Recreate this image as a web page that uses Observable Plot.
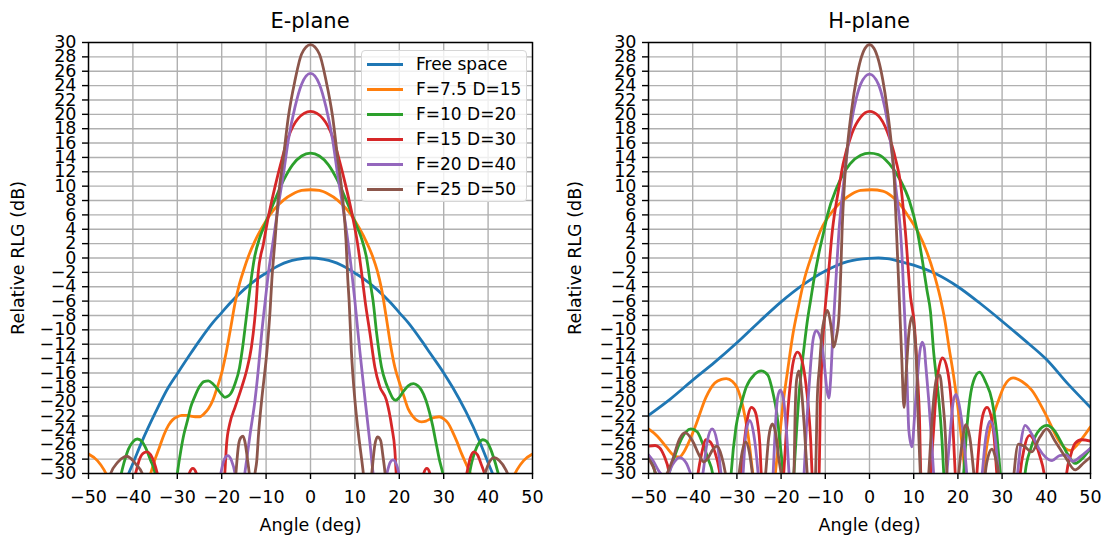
<!DOCTYPE html>
<html><head><meta charset="utf-8">
<script src="https://cdn.jsdelivr.net/npm/d3@7"></script>
<script src="https://cdn.jsdelivr.net/npm/@observablehq/plot@0.6"></script>
<style>
body{margin:0;background:#fff;font-family:"DejaVu Sans",sans-serif;}
#wrap{position:relative;width:1102px;height:535px;overflow:hidden;background:#fff;}
.panel{position:absolute;top:0;}
.title{position:absolute;top:11px;font-size:21px;line-height:21px;white-space:nowrap;transform:translateX(-50%);color:#000;}
.legend{position:absolute;left:361px;top:50px;width:166px;height:152px;box-sizing:border-box;border:1.2px solid #d6d6d6;border-radius:4px;background:rgba(255,255,255,0.8);}
.lrow{position:absolute;left:0;height:25px;display:flex;align-items:center;}
.lline{width:36px;height:2.8px;margin-left:5px;}
.ltext{margin-left:13px;font-size:17px;line-height:17px;white-space:nowrap;color:#000;}
</style></head><body><div id="wrap"></div>
<script>
// ---------- series and ticks ----------
const seriesNames = ["Free space","F=7.5 D=15","F=10 D=20","F=15 D=30","F=20 D=40","F=25 D=50"];
const seriesColors = ["#1f77b4","#ff7f0e","#2ca02c","#d62728","#9467bd","#8c564b"];
const xTicks = [-50,-40,-30,-20,-10,0,10,20,30,40,50];
const yTicks = [-30,-28,-26,-24,-22,-20,-18,-16,-14,-12,-10,-8,-6,-4,-2,0,2,4,6,8,10,12,14,16,18,20,22,24,26,28,30];
const panelTitles = ["E-plane","H-plane"];

// ---------- E-plane data: [angle (deg), relative RLG (dB)] ----------
const eFree = [[-50,-46],[-45,-36],[-42,-31.5],[-40,-28.6],[-38,-25.6],[-35,-21.6],[-32,-18],[-30,-16.1],[-27,-13.3],[-25,-11.5],[-22,-9],[-20,-7.6],[-18,-6.2],[-15,-4.4],[-12,-2.9],[-10,-2.1],[-7,-1.0],[-5,-0.5],[-3,-0.2],[0,0],[3,-0.2],[5,-0.5],[7,-1.0],[10,-2.1],[12,-2.9],[15,-4.4],[18,-6.2],[20,-7.6],[22,-9],[25,-11.5],[27,-13.3],[30,-16],[32,-18],[35,-21.4],[38,-25.4],[40,-28.5],[42,-31.5],[45,-36],[50,-46]];
const eF75 = [[-50,-27.3],[-48,-28.2],[-46.5,-29.5],[-45,-31.5],[-43,-36],[-40,-38],[-37.5,-33],[-36,-30],[-35,-28],[-34,-26.3],[-33,-24.6],[-32,-23.3],[-31,-22.5],[-30,-22.1],[-29,-21.9],[-28,-21.9],[-27,-22.0],[-26,-22.1],[-25,-22.1],[-24,-21.7],[-23,-21],[-22,-19.8],[-21,-18],[-20,-16],[-19,-13.2],[-18,-9.8],[-17,-6.3],[-16,-3.6],[-15,-1.6],[-14,0.2],[-12,3],[-10,5.2],[-8,6.9],[-6,8.1],[-4,8.9],[-2,9.4],[0,9.5],[2,9.4],[4,8.9],[6,8.1],[8,6.9],[10,5.2],[12,3],[14,0.2],[15,-1.7],[16,-4.3],[17,-8],[18,-12],[19,-15.2],[20,-17.3],[21,-19.2],[22,-21],[23,-22],[24,-22.6],[25,-22.8],[26,-22.7],[27,-22.4],[28,-22.2],[29,-22.1],[30,-22.4],[31,-23],[32,-24.2],[33,-25.6],[34,-27.2],[35,-28.6],[36,-30],[37.5,-33],[40,-38],[43,-36],[45,-31.5],[46.5,-29.5],[48,-28.2],[50,-27.3]];
const eF10 = [[-50,-40],[-45,-36],[-43,-31],[-42,-28.5],[-41,-26.6],[-40,-25.6],[-39,-25.2],[-38,-25.5],[-37,-26.6],[-36,-28.2],[-35,-30],[-34,-35],[-32.5,-38],[-31,-35],[-30,-30],[-29.2,-26.8],[-28.5,-24.5],[-27.7,-22.6],[-27,-20.8],[-26,-19.2],[-25,-17.9],[-24,-17.2],[-23,-17.1],[-22,-17.5],[-21,-18.2],[-20,-19],[-19.3,-19.4],[-18.5,-19.2],[-18,-18.9],[-17,-17.5],[-16,-15.3],[-15.3,-12.5],[-14.5,-8.5],[-14,-6],[-13.5,-3.6],[-12.6,0.1],[-11.5,2.7],[-10.3,4.6],[-9,6.6],[-8,8.1],[-6,10.9],[-4,13],[-2,14.2],[0,14.6],[2,14.2],[4,13],[6,10.9],[8,8.1],[9,6.6],[10.3,4.6],[11.5,2.7],[12.6,0.1],[13.5,-3.6],[14.1,-6],[14.9,-10.5],[16,-15.2],[17,-17.4],[17.8,-18.6],[18.5,-19.5],[19.2,-19.8],[20,-19.4],[21,-18.5],[22,-17.8],[23.2,-17.5],[24.2,-17.8],[25,-18.4],[26,-19.8],[26.8,-21.5],[27.5,-23.3],[28.2,-25.5],[29,-28],[29.8,-30],[31,-35],[32.5,-38],[34,-35],[35.5,-31],[36.3,-28.5],[37,-27],[38,-25.7],[38.8,-25.3],[39.6,-25.5],[40.5,-26.5],[41.5,-28.3],[42.5,-30.5],[45,-36],[50,-40]];
const eF15 = [[-50,-40],[-45,-38],[-41,-34],[-39.4,-30],[-38.5,-28],[-37.5,-27.1],[-36.8,-27.0],[-36,-27.4],[-35.2,-28.5],[-34.5,-30],[-33,-35],[-31,-38],[-28.3,-35],[-27.3,-30],[-26.5,-29.3],[-25.7,-30],[-24.8,-35],[-22,-38],[-20,-36],[-19.3,-30],[-18.9,-25.9],[-18.2,-23.1],[-17,-20.8],[-15.5,-18],[-14.4,-15.7],[-13.3,-12.4],[-12.6,-8.8],[-12.2,-6],[-11.8,-2.2],[-10.6,2],[-9.5,5.7],[-8,9.9],[-6.5,13.6],[-5,16.8],[-2.8,19.4],[0,20.4],[2.8,19.4],[5,16.8],[6.5,13.6],[8,9.9],[9.5,5.7],[10.6,2],[11.6,-2.5],[12.3,-6],[13.4,-10.5],[14.5,-15.2],[15.6,-17.9],[17.1,-19.8],[18.3,-23.5],[19,-26.8],[19.3,-30],[20,-36],[23,-38],[24.8,-35],[25.5,-30],[26.2,-29.3],[26.9,-30],[27.8,-35],[31,-38],[34,-34],[35.2,-30],[36,-27.8],[36.8,-27.0],[37.6,-27.4],[38.5,-28.8],[39.2,-30],[41,-35],[45,-38],[50,-40]];
const eF20 = [[-50,-40],[-30,-40],[-23,-38],[-21.5,-35],[-20.2,-30],[-19.4,-28],[-18.6,-27.5],[-17.8,-28.2],[-17,-30],[-15.9,-36],[-14.8,-30],[-14.4,-28.2],[-13.6,-24.5],[-12.5,-19.8],[-11.7,-15.2],[-11,-10.5],[-10.2,-6],[-9.5,-2.2],[-8.4,2.4],[-7.3,7.1],[-6.1,11.7],[-5,16.4],[-3.5,21],[-2,24.2],[0,25.7],[2,24.2],[3.5,21],[5,16.4],[6.1,11.7],[7.3,7.1],[8.4,2.4],[9.3,-2],[10,-6],[11.1,-12.9],[12.3,-19.8],[13.4,-25.8],[14.1,-30],[15.6,-36],[17.2,-30],[18,-28.4],[18.6,-28.1],[19.2,-28.5],[19.9,-30],[21,-35],[23,-38],[30,-40],[50,-40]];
const eF25 = [[-50,-40],[-47,-36],[-45,-30],[-43.5,-28.5],[-42,-27.7],[-41.4,-27.6],[-40.5,-27.9],[-39.2,-28.8],[-37.9,-30],[-36,-36],[-30,-40],[-20,-40],[-17.5,-36],[-16.8,-30],[-16.2,-26],[-15.7,-25],[-15.2,-24.8],[-14.8,-25.5],[-14.2,-28],[-13.8,-30],[-13.2,-35],[-12.5,-30],[-12.1,-28.2],[-11.7,-24.5],[-11,-19.8],[-9.8,-12.9],[-9.1,-7.3],[-8.7,-3],[-8,2.4],[-7.3,8],[-6.1,14],[-5,19.6],[-3.5,24.7],[-2,28.4],[0,29.7],[2,28.4],[3.5,24.7],[5,19.6],[6.1,14],[7.3,8],[8,2.4],[8.4,-3],[8.7,-6],[9.2,-12.9],[10,-19.8],[10.8,-24.5],[11.9,-30],[12.8,-36],[13.8,-30],[14.5,-26],[15.1,-24.9],[15.8,-25.4],[16.3,-27.5],[16.8,-30],[17.5,-36],[20,-40],[30,-40],[37,-36],[39.3,-30],[40.5,-28.2],[41.4,-27.8],[42.5,-28.2],[44,-29.5],[45,-31],[47,-36],[50,-40]];

// ---------- H-plane data ----------
const hFree = [[-50,-21.9],[-45,-19.6],[-40,-17],[-35,-14.5],[-30,-11.8],[-25,-8.9],[-20,-6.1],[-15,-3.7],[-10,-1.8],[-5,-0.5],[0,-0.05],[2,0],[4,-0.1],[7,-0.5],[10,-1.0],[15,-2.2],[20,-4.0],[25,-6.3],[30,-8.8],[35,-11.4],[40,-14.1],[45,-17.6],[50,-20.8]];
const hF75 = [[-50,-23.8],[-48,-24.8],[-46,-26.3],[-44,-27.6],[-43,-27.7],[-42,-27],[-41,-25.8],[-39.2,-23.1],[-37,-19.4],[-35,-17.4],[-33.5,-16.9],[-32.4,-16.8],[-31,-17.2],[-30,-18],[-28.6,-20.8],[-27.5,-24.5],[-26.4,-30],[-25.2,-36],[-23.5,-38],[-22,-35],[-21.3,-30],[-20.8,-27],[-20.2,-24],[-19.5,-20],[-18.6,-16],[-17.3,-10.5],[-16,-6.5],[-14.8,-3.1],[-13,0.5],[-11.1,3.8],[-8,6.8],[-6,8],[-4,8.9],[-2,9.4],[0.5,9.5],[3,9.3],[5,8.6],[7,7.4],[9,5.6],[11,3.6],[13,0.8],[14.5,-2],[16,-5.5],[17,-8.5],[18,-12.5],[19,-16.3],[20,-20.8],[20.6,-24],[21.2,-27.5],[21.6,-30],[22.5,-36],[24,-38],[25.2,-35],[25.8,-30],[26.6,-25.9],[27.7,-22.6],[29.2,-19.8],[30.5,-17.8],[32.5,-16.7],[34.5,-17.2],[36.7,-18.4],[39.8,-21.7],[42.8,-25.4],[44.3,-26.5],[45.5,-26.8],[47,-26],[48.5,-24.8],[50,-23.5]];
const hF10 = [[-50,-27.5],[-49,-28.8],[-48.5,-30],[-47.8,-35],[-46.5,-37],[-45.8,-34],[-45.3,-30],[-44.3,-28],[-43,-25.8],[-41.5,-24.2],[-40.4,-23.8],[-39,-24.2],[-37.7,-25.9],[-36.5,-28],[-35.5,-30],[-34.5,-36],[-33,-38],[-31.8,-35],[-31.3,-30],[-30.2,-23.5],[-29,-20.3],[-27.9,-18],[-26,-16.2],[-24.5,-15.7],[-23,-16.3],[-21.8,-18.9],[-21,-21.5],[-20.3,-25.4],[-19.5,-30],[-18.3,-37],[-17.1,-30],[-16.5,-24],[-16,-19.4],[-15.3,-15],[-14.8,-12.4],[-14,-8.5],[-13.3,-5.8],[-12.6,-3.1],[-11.5,0.5],[-10.3,3.8],[-9.6,5.8],[-7.4,9.8],[-4.4,13.1],[-2,14.3],[0,14.6],[2,14.4],[4.5,13.1],[7,10.8],[9,8],[10.8,3.8],[12,-0.5],[13,-4.5],[13.8,-7.5],[14.5,-13],[15.2,-17],[15.7,-19.8],[16.4,-25.4],[16.8,-30],[17.8,-36],[19.5,-38],[20.7,-35],[21.3,-30],[21.8,-25.5],[22.4,-21.2],[23.5,-17.2],[24.9,-15.9],[26.3,-17.3],[27.7,-19.8],[28.3,-22],[28.8,-24.5],[29.3,-28],[29.6,-30],[30.5,-36],[32.5,-38],[34.5,-35],[35.2,-30],[36.5,-26.5],[38,-24.3],[40.1,-23.3],[41.8,-24],[43.5,-25.8],[45,-27.5],[46.5,-28.6],[48,-28],[50,-26.5]];
const hF15 = [[-50,-26.2],[-48.5,-26.1],[-47.5,-26.4],[-46.5,-27.5],[-45.3,-30],[-44.2,-36],[-42,-38],[-39.8,-35],[-38.8,-30],[-38,-27.3],[-37,-25.3],[-36,-25.6],[-35,-27],[-34,-29.5],[-33.5,-32],[-31.5,-38],[-29.7,-35],[-29,-30],[-28.3,-25.5],[-27.5,-22],[-26.7,-20.8],[-26,-21.2],[-25.3,-23],[-24.8,-26],[-24.5,-30],[-23.5,-36],[-21.5,-38],[-20,-35],[-19.4,-30],[-18.8,-24],[-18,-18],[-17.2,-14.3],[-16.3,-13.1],[-15.4,-14],[-14.5,-17],[-13.8,-21],[-13.3,-25.5],[-13,-30],[-12.3,-37],[-11.4,-30],[-11.1,-20],[-10.6,-12],[-10.1,-7.5],[-9.4,-3],[-8.4,3.8],[-7,9.5],[-6,13],[-4,17.3],[-2,19.6],[0,20.4],[2,19.8],[4,17.6],[6,13.5],[7,10.5],[8.1,3.8],[9.3,-5.5],[10.1,-9],[10.6,-13.5],[11,-18],[11.3,-22],[11.6,-30],[12.5,-37],[13.8,-30],[14.5,-24],[15.3,-17],[16.5,-13.9],[17.6,-15.5],[18.5,-20],[19,-25],[19.4,-30],[20.5,-37],[22.5,-38],[23.8,-35],[24.3,-30],[25,-24.5],[25.8,-21.5],[26.6,-20.8],[27.5,-22],[28.2,-25],[28.8,-30],[29.8,-36],[32,-38],[33.5,-35],[34.1,-30],[35,-26.5],[36.2,-24.7],[37.3,-25.5],[38.5,-27.5],[39.5,-30],[40.5,-36],[42.5,-38],[44,-35],[44.6,-30],[45.5,-27.5],[46.5,-25.8],[48,-25.3],[50,-25.5]];
const hF20 = [[-50,-27.4],[-49,-28.2],[-47.5,-29.8],[-46,-30.5],[-44.5,-28.7],[-43,-27.8],[-41.5,-28.5],[-40.5,-30],[-39,-33],[-37.7,-30],[-36.7,-25.5],[-35.6,-23.8],[-34.5,-25.5],[-33.6,-30],[-32.5,-36],[-30,-38],[-28.6,-30],[-28,-24.5],[-27.1,-22.6],[-26.2,-24.5],[-25.2,-30],[-24.5,-36],[-23,-38],[-21.8,-30],[-21.3,-23.5],[-20.8,-19.5],[-20.2,-18.4],[-19.5,-19.5],[-18.8,-24],[-18.2,-30],[-17.2,-37],[-15.6,-36],[-14.8,-30],[-14.3,-24],[-13.8,-19],[-13.3,-14.7],[-12.8,-11.5],[-12.1,-10.1],[-11,-11.3],[-10.2,-15],[-9.6,-18.5],[-9.2,-19.5],[-8.8,-17],[-8.4,-12],[-8,-7.5],[-7.4,-1],[-6.9,3.8],[-6,9.5],[-5,15],[-4,19.2],[-3,22.2],[-2,24.2],[0,25.6],[2,24.2],[3,22.2],[4,19.2],[5,15],[6,9.5],[7,3.8],[7.5,-1.5],[7.8,-6],[8.1,-10.1],[8.5,-17],[8.9,-24],[9.6,-26.3],[10.2,-22],[10.8,-17.1],[11.4,-13],[11.9,-11.7],[12.4,-12.5],[12.7,-14.7],[13.4,-19.8],[14,-25],[14.5,-30],[15.2,-36],[16.8,-36],[17.5,-30],[18.3,-24],[19,-19.8],[19.6,-19],[20.3,-20.5],[21.3,-25],[22,-30],[23,-36],[24.5,-36],[25.5,-30],[26.3,-25],[27.3,-22.7],[28.3,-24.5],[29.2,-30],[30.2,-36],[32.5,-36],[33.5,-30],[34.3,-25.5],[35.2,-23.3],[36.7,-24.5],[38.3,-26.5],[39.8,-27.7],[41.3,-28.2],[43,-27.5],[44.5,-27.4],[46,-28.3],[48,-27.5],[50,-26.5]];
const hF25 = [[-50,-27.9],[-49,-29],[-47.5,-31],[-45.8,-30],[-44.5,-28],[-43,-25.2],[-41.7,-24.3],[-40,-25.5],[-38.5,-27.5],[-37.5,-28.4],[-36.5,-27.8],[-35.5,-26.7],[-34.5,-26.2],[-33.5,-27.5],[-32.6,-30],[-31.5,-36],[-30.5,-36],[-29.5,-30],[-28.8,-27],[-28,-25.6],[-27.2,-27],[-26.5,-30],[-25.5,-36],[-24.5,-36],[-23.5,-30],[-22.8,-25],[-22,-23.1],[-21.2,-24.5],[-20.5,-28],[-20,-30],[-19,-37],[-18,-36],[-17.1,-30],[-16.8,-21],[-16.5,-17],[-16,-15.7],[-15.3,-19],[-14.7,-24],[-14.1,-30],[-13.2,-37],[-12.2,-30],[-11.8,-19.4],[-11.3,-15],[-10.7,-10.1],[-10.2,-8.5],[-9.6,-7.3],[-8.7,-9.5],[-8.1,-12.4],[-7.5,-11],[-6.9,-8],[-6.5,-2],[-6.2,3.8],[-5.6,11],[-5,15.5],[-4,20.8],[-3,24.8],[-2,27.6],[-1,29.2],[0,29.7],[1,29.2],[2,27.6],[3,24.8],[4,20.8],[5,15.5],[5.6,11],[6.1,3.8],[6.5,-2],[6.9,-8],[7.3,-14],[7.8,-20.8],[8.3,-16],[8.9,-10.5],[9.6,-8.2],[10.2,-10.5],[10.6,-14],[11.1,-24],[11.5,-30],[12.5,-37],[13.4,-30],[14.2,-22],[15.3,-16.5],[15.9,-16.3],[16.6,-20],[17.2,-25],[17.5,-30],[18.5,-37],[19.5,-36],[20.2,-30],[21,-25.5],[21.8,-23.2],[22.7,-25],[23.6,-30],[24.5,-36],[25.5,-36],[26.2,-30],[27,-27.3],[27.7,-26.6],[28.5,-27.8],[29.2,-30],[30,-36],[32,-36],[32.7,-30],[33.7,-25.9],[35,-26.2],[36.7,-27],[38.5,-25],[40.1,-23.8],[42,-25.5],[44.3,-27.7],[46.5,-29.5],[48.5,-28.5],[50,-27.7]];

const ePlane = [eFree, eF75, eF10, eF15, eF20, eF25];
const hPlane = [hFree, hF75, hF10, hF15, hF20, hF25];

// ---------- build ----------
const fmt = d => (d < 0 ? "\u2212" + Math.abs(d) : String(d));
function toRows(set) {
  return set.flatMap((arr, i) => arr.map(([angle, dB]) => ({angle, dB, series: seriesNames[i]})));
}
function makePlot(rows, ml, mr, lo) {
  return Plot.plot({
    width: 551, height: 535,
    marginLeft: ml, marginRight: mr, marginTop: 42, marginBottom: 62,
    style: {fontFamily: "DejaVu Sans", fontSize: "17.5px", color: "#000", background: "transparent", overflow: "visible"},
    x: {domain: [-50, 50], nice: false},
    y: {domain: [-30, 30], nice: false},
    color: {domain: seriesNames, range: seriesColors},
    marks: [
      Plot.gridX({ticks: xTicks, stroke: "#b0b0b0", strokeOpacity: 1, strokeWidth: 1.4}),
      Plot.gridY({ticks: yTicks, stroke: "#b0b0b0", strokeOpacity: 1, strokeWidth: 1.4}),
      Plot.line(rows, {x: "angle", y: "dB", z: "series", stroke: "series", strokeWidth: 2.8, curve: "monotone-x", clip: true}),
      Plot.frame({stroke: "#000", strokeWidth: 1.4}),
      Plot.axisX({ticks: xTicks, tickSize: 6, tickPadding: 11, tickFormat: fmt, strokeWidth: 1.4, fontSize: 17.5,
        label: "Angle (deg)", labelAnchor: "center", labelOffset: 57, labelArrow: "none"}),
      Plot.axisY({ticks: yTicks, tickSize: 6, tickPadding: 6, tickFormat: fmt, strokeWidth: 1.4, fontSize: 17.5,
        label: "Relative RLG (dB)", labelAnchor: "center", labelOffset: lo, labelArrow: "none"})
    ]
  });
}

const wrap = document.getElementById("wrap");
const specs = [
  {rows: toRows(ePlane), left: 0, ml: 88, mr: 19, lo: 77, cx: 310},
  {rows: toRows(hPlane), left: 551, ml: 97, mr: 12, lo: 80, cx: 869}
];
specs.forEach((s, i) => {
  const div = document.createElement("div");
  div.className = "panel";
  div.style.left = s.left + "px";
  div.appendChild(makePlot(s.rows, s.ml, s.mr, s.lo));
  wrap.appendChild(div);
  const t = document.createElement("div");
  t.className = "title";
  t.style.left = s.cx + "px";
  t.textContent = panelTitles[i];
  wrap.appendChild(t);
});

// legend (E-plane panel)
const leg = document.createElement("div");
leg.className = "legend";
seriesNames.forEach((name, i) => {
  const r = document.createElement("div");
  r.className = "lrow";
  r.style.top = (0.8 + 25 * i) + "px";
  const l = document.createElement("div");
  l.className = "lline";
  l.style.background = seriesColors[i];
  const tx = document.createElement("div");
  tx.className = "ltext";
  tx.textContent = name;
  r.appendChild(l); r.appendChild(tx);
  leg.appendChild(r);
});
wrap.appendChild(leg);
</script></body></html>
